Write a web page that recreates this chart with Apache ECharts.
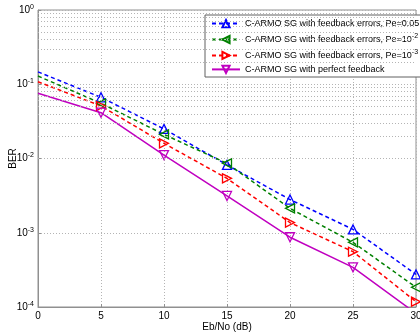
<!DOCTYPE html>
<html><head><meta charset="utf-8">
<script src="https://cdn.jsdelivr.net/npm/echarts@6/dist/echarts.min.js"></script>
<style>html,body{margin:0;padding:0;background:#fff}#c{width:420px;height:336px}</style>
</head><body><div id="c"></div>
<script>
const xValues = [0, 5, 10, 15, 20, 25, 30];
const bluePe005 = [0.147, 0.0667, 0.025, 0.0082, 0.0028, 0.00111, 0.000275];
const greenPe1e2 = [0.129, 0.0554, 0.0211, 0.0086, 0.00213, 0.000743, 0.000184];
const redPe1e3 = [0.108, 0.051, 0.016, 0.0054, 0.00137, 0.000556, 0.000118];
const magentaPerfect = [0.0755, 0.0414, 0.0111, 0.00313, 0.00087, 0.000342, 0.000082];
const seriesNames = [
  'C-ARMO SG with feedback errors, Pe=0.05',
  'C-ARMO SG with feedback errors, Pe=10^-2',
  'C-ARMO SG with feedback errors, Pe=10^-3',
  'C-ARMO SG with perfect feedback'
];
const minorGridValues = [];
for (let e = -4; e < 0; e++) for (let m = 2; m <= 9; m++) minorGridValues.push(m * Math.pow(10, e));

const FONT = 'Liberation Sans';
const gridLine = { type: [1, 2], color: '#b4b4b4', width: 1 };
const syms = {
  up: 'path://M0,10 L5,0 L10,10 Z',
  left: 'path://M10,0 L10,10 L0,5 Z',
  right: 'path://M0,0 L0,10 L10,5 Z',
  down: 'path://M0,0 L10,0 L5,10 Z'
};
function mk(name, data, color, sym, dashed) {
  return {
    name: name, type: 'line',
    data: xValues.map((x, i) => i === 0 ? { value: [x, data[i]], symbol: 'none' } : [x, data[i]]),
    symbol: sym, symbolSize: 9, clip: true, color: color, showAllSymbol: true,
    lineStyle: { color: color, width: 1.5, type: dashed ? [4, 3] : 'solid' },
    itemStyle: { color: 'rgba(255,255,255,0)', borderColor: color, borderWidth: 1.3 },
    emphasis: { disabled: true }, animation: false
  };
}
const series = [
  mk(seriesNames[0], bluePe005, '#0000ff', syms.up, true),
  mk(seriesNames[1], greenPe1e2, '#008000', syms.left, true),
  mk(seriesNames[2], redPe1e3, '#ff0000', syms.right, true),
  mk(seriesNames[3], magentaPerfect, '#c000c0', syms.down, false)
];
series[0].markLine = {
  silent: true, symbol: 'none', animation: false, label: { show: false },
  lineStyle: gridLine, emphasis: { disabled: true },
  data: minorGridValues.map(v => ({ yAxis: v }))
};

const chart = echarts.init(document.getElementById('c'), null, { renderer: 'canvas' });
chart.setOption({
  animation: false,
  backgroundColor: '#fff',
  textStyle: { fontFamily: FONT },
  grid: { left: 38, right: 4, top: 10, bottom: 29, containLabel: false, outerBoundsMode: 'none',
    show: true, borderColor: '#909090', borderWidth: 1, backgroundColor: 'transparent' },
  legend: {
    show: true, orient: 'vertical', left: 205, top: 15,
    padding: [4, 4, 3, 6], itemGap: 4.8, itemWidth: 28, itemHeight: 9,
    backgroundColor: '#fff', borderColor: '#606060', borderWidth: 1, borderRadius: 0,
    data: seriesNames,
    textStyle: {
      fontFamily: FONT, fontSize: 9, color: '#000',
      rich: {
        t: { fontFamily: FONT, fontSize: 9, color: '#000' },
        s: { fontFamily: FONT, fontSize: 7, color: '#000', padding: [0, 0, 6, 0] }
      }
    },
    formatter: function (n) {
      const m = n.match(/^(.*)10\^(-?\d+)$/);
      if (m) return '{t|' + m[1] + '10}{s|' + m[2] + '}';
      return '{t|' + n + '}';
    }
  },
  xAxis: {
    type: 'value', min: 0, max: 30, interval: 5,
    name: 'Eb/No (dB)', nameLocation: 'middle', nameGap: 15, nameMoveOverlap: false,
    nameTextStyle: { fontFamily: FONT, fontSize: 10, color: '#000' },
    axisLine: { lineStyle: { color: '#909090' } },
    axisTick: { inside: true, length: 3, lineStyle: { color: '#909090' } },
    axisLabel: { fontFamily: FONT, fontSize: 10, color: '#000', margin: 4 },
    splitLine: { show: true, lineStyle: gridLine }
  },
  yAxis: {
    type: 'log', logBase: 10, min: 1e-4, max: 1,
    name: 'BER', nameLocation: 'middle', nameGap: 20, nameRotate: 90, nameMoveOverlap: false,
    nameTextStyle: { fontFamily: FONT, fontSize: 10, color: '#000' },
    axisLine: { show: true, lineStyle: { color: '#909090' } },
    axisTick: { inside: true, length: 3, lineStyle: { color: '#909090' } },
    axisLabel: {
      fontFamily: FONT, fontSize: 10, color: '#000', margin: 4,
      formatter: function (v) {
        const e = Math.round(Math.log10(v));
        return '{b|10}{s|' + e + '}';
      },
      rich: {
        b: { fontFamily: FONT, fontSize: 10, color: '#000' },
        s: { fontFamily: FONT, fontSize: 7, color: '#000', padding: [0, 0, 6, 0] }
      }
    },
    splitLine: { show: true, lineStyle: gridLine }
  },
  series: series
});
</script></body></html>
